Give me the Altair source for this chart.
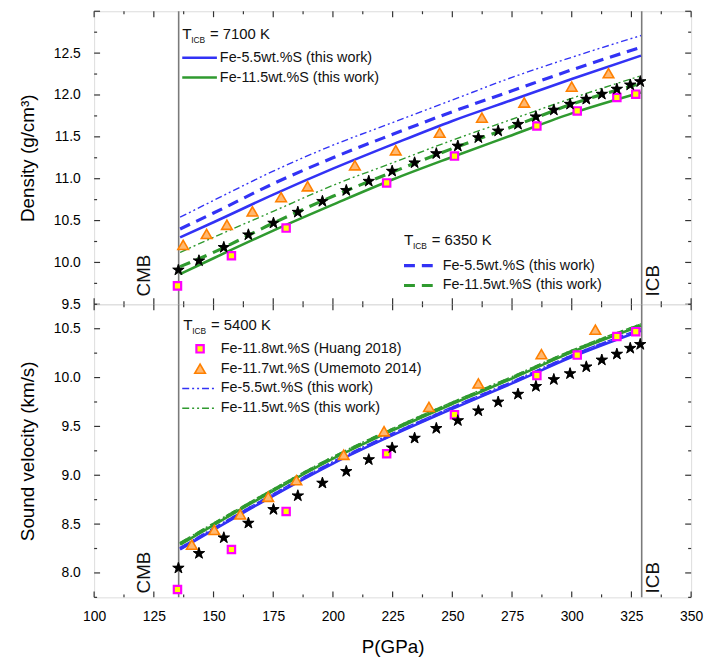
import altair as alt
import pandas as pd

# ---------------- data ----------------
p_grid = [136, 150, 175, 200, 225, 250, 275, 300, 329]

# density (g/cm3) - this work
rho_55_7100 = [10.30, 10.48, 10.81, 11.12, 11.41, 11.69, 11.94, 12.19, 12.47]
rho_55_6350 = [10.40, 10.59, 10.94, 11.25, 11.53, 11.80, 12.05, 12.30, 12.57]
rho_55_5400 = [10.54, 10.74, 11.09, 11.40, 11.67, 11.94, 12.21, 12.45, 12.71]
rho_115_7100 = [9.86, 10.05, 10.38, 10.69, 10.99, 11.26, 11.52, 11.78, 12.03]
rho_115_6350 = [9.95, 10.12, 10.47, 10.79, 11.08, 11.36, 11.62, 11.89, 12.14]
rho_115_5400 = [10.12, 10.30, 10.61, 10.92, 11.19, 11.46, 11.71, 11.96, 12.23]

# sound velocity (km/s) - this work
vp_55_7100 = [8.24, 8.44, 8.79, 9.12, 9.41, 9.68, 9.94, 10.21, 10.48]
vp_55_6350 = [8.25, 8.45, 8.80, 9.13, 9.42, 9.69, 9.95, 10.22, 10.49]
vp_55_5400 = [8.26, 8.46, 8.81, 9.14, 9.43, 9.70, 9.96, 10.23, 10.50]
vp_115_7100 = [8.29, 8.49, 8.84, 9.17, 9.46, 9.73, 9.99, 10.26, 10.53]
vp_115_6350 = [8.30, 8.50, 8.85, 9.18, 9.47, 9.74, 10.00, 10.27, 10.54]
vp_115_5400 = [8.31, 8.51, 8.86, 9.19, 9.48, 9.75, 10.01, 10.28, 10.55]

# stars (reference model)
star_p = [135.3, 143.9, 154.3, 164.6, 175.1, 185.3, 195.6, 205.6, 215.0, 224.8, 234.2, 243.3,
          252.3, 260.9, 269.2, 277.5, 285.0, 292.5, 299.3, 306.1, 312.6, 318.9, 324.5, 328.7]
star_rho = [9.91, 10.02, 10.18, 10.33, 10.47, 10.60, 10.73, 10.86, 10.97, 11.09, 11.19, 11.30,
            11.39, 11.49, 11.57, 11.65, 11.74, 11.82, 11.89, 11.95, 12.01, 12.07, 12.12, 12.16]
star_vp = [8.05, 8.20, 8.36, 8.51, 8.65, 8.79, 8.92, 9.04, 9.16, 9.28, 9.38, 9.48,
           9.56, 9.66, 9.75, 9.83, 9.91, 9.98, 10.04, 10.11, 10.18, 10.24, 10.30, 10.34]

# Huang 2018 (squares)
huang_p = [134.9, 157.5, 180.4, 222.5, 250.9, 285.4, 302.3, 318.9, 326.8]
huang_rho = [9.72, 10.08, 10.41, 10.95, 11.27, 11.63, 11.81, 11.97, 12.01]
huang_vp = [7.83, 8.24, 8.63, 9.22, 9.62, 10.02, 10.23, 10.42, 10.47]

# Umemoto 2014 (triangles)
ume_p_rho = [137.3, 147.1, 155.6, 166.3, 178.3, 189.4, 209.2, 226.3, 244.7, 262.4, 280.1, 300.0, 315.4]
ume_rho = [10.21, 10.34, 10.45, 10.61, 10.78, 10.91, 11.16, 11.34, 11.55, 11.73, 11.91, 12.10, 12.26]
ume_p_vp = [140.9, 150.3, 161.2, 172.9, 184.7, 204.5, 221.4, 240.2, 260.9, 287.3, 309.9]
ume_vp = [8.29, 8.44, 8.60, 8.78, 8.95, 9.21, 9.45, 9.70, 9.94, 10.24, 10.49]

boundary_p = [135.4, 329.3]
boundary_names = ["CMB", "ICB"]
boundary_label_p = [120.7, 334.2]

x_major = [100, 125, 150, 175, 200, 225, 250, 275, 300, 325, 350]
x_minor = [112.5, 137.5, 162.5, 187.5, 212.5, 237.5, 262.5, 287.5, 312.5, 337.5]
rho_labels = [9.5, 10.0, 10.5, 11.0, 11.5, 12.0, 12.5]
rho_major = [9.5, 10.0, 10.5, 11.0, 11.5, 12.0, 12.5, 13.0]
rho_minor = [9.75, 10.25, 10.75, 11.25, 11.75, 12.25, 12.75]
vp_labels = [8.0, 8.5, 9.0, 9.5, 10.0, 10.5]
vp_major = [8.0, 8.5, 9.0, 9.5, 10.0, 10.5]
vp_minor = [7.75, 8.25, 8.75, 9.25, 9.75, 10.25, 10.75]

lab_55 = "Fe-5.5wt.%S (this work)"
lab_115 = "Fe-11.5wt.%S (this work)"
lab_huang = "Fe-11.8wt.%S (Huang 2018)"
lab_ume = "Fe-11.7wt.%S (Umemoto 2014)"
temps = ["7100 K", "6350 K", "5400 K"]

# ---------------- styling ----------------
W, H = 603, 296
BLUE = "#3232f5"
GREEN = "#2f9a2f"
FRAME = "#333333"
FONT = "Liberation Sans"
STAR = ("M0,-1L0.2245,-0.309L0.951,-0.309L0.363,0.118L0.588,0.809L0,0.382"
        "L-0.588,0.809L-0.363,0.118L-0.951,-0.309L-0.2245,-0.309Z")
STYLES = {
    "solid": dict(strokeWidth=2.6),
    "dash": dict(strokeWidth=3.2, strokeDash=[11, 7]),
    "dashdot": dict(strokeWidth=1.4, strokeDash=[7, 3, 2, 3, 2, 3]),
}
DUMMY = pd.DataFrame({"k": [0]})
xscale = alt.Scale(domain=[100, 350], nice=False, zero=False)


def panel(yscale, ylabels, ymajor, yminor, series, stars_v, huang_v, ume_p, ume_v, ytitle,
          show_x, legend_layers, cmb_y, icb_y):
    layers = []
    yax = alt.Axis(values=ylabels, format=".1f", ticks=False, domain=False, grid=False,
                   labelFontSize=14, labelPadding=14, title=ytitle,
                   titleFontSize=19, titleFontWeight="normal", titlePadding=16)
    if show_x:
        xax = alt.Axis(values=x_major, format="d", ticks=False, domain=False, grid=False,
                       labelFontSize=14, labelPadding=12, labelFlush=False,
                       title="P(GPa)", titleFontSize=19, titleFontWeight="normal",
                       titlePadding=15)

        def X(f):
            return alt.X(f, scale=xscale)
    else:
        xax = None

        def X(f):
            return alt.X(f, scale=xscale, axis=None)

    def Y(f):
        return alt.Y(f, scale=yscale)

    # stars carry the axes
    layers.append(alt.Chart(pd.DataFrame({"P": star_p, "v": stars_v})).mark_point(
        shape=STAR, filled=True, fill="#000", stroke="#000", strokeWidth=0.6, size=145,
        opacity=1).encode(x=alt.X("P:Q", scale=xscale, axis=xax),
                          y=alt.Y("v:Q", scale=yscale, axis=yax)))
    # boundary rules
    layers.append(alt.Chart(pd.DataFrame({"P": boundary_p})).mark_rule(
        color="#7a7a7a", strokeWidth=1.6).encode(x=X("P:Q"), y=alt.value(0), y2=alt.value(H)))
    # lines
    for vals, color, style in series:
        df = pd.DataFrame({"P": p_grid, "v": vals})
        layers.append(alt.Chart(df).mark_line(color=color, interpolate="monotone",
                                              **STYLES[style]).encode(x=X("P:Q"), y=Y("v:Q")))
    layers.append(alt.Chart(pd.DataFrame({"P": ume_p, "v": ume_v})).mark_point(
        shape="triangle-up", filled=True, fill="#ffb870", stroke="#ff8000", strokeWidth=1.6,
        size=115, opacity=1).encode(x=X("P:Q"), y=Y("v:Q")))
    layers.append(alt.Chart(pd.DataFrame({"P": huang_p, "v": huang_v})).mark_point(
        shape="square", filled=True, fill="#ffff00", stroke="#ff00ff", strokeWidth=2.2,
        size=55, opacity=1).encode(x=X("P:Q"), y=Y("v:Q")))
    # stars again, above the lines
    layers.append(alt.Chart(pd.DataFrame({"P": star_p, "v": stars_v})).mark_point(
        shape=STAR, filled=True, fill="#000", stroke="#000", strokeWidth=0.6, size=145,
        opacity=1).encode(x=X("P:Q"), y=Y("v:Q")))
    # CMB / ICB labels
    for name, lp, yy in zip(boundary_names, boundary_label_p, [cmb_y, icb_y]):
        layers.append(alt.Chart(pd.DataFrame({"P": [lp], "t": [name]})).mark_text(
            angle=270, align="left", baseline="middle", fontSize=19, color="#111",
            font=FONT).encode(x=X("P:Q"), y=alt.value(yy), text="t:N"))
    # inward ticks
    for vals, ln in [(ymajor, 6), (yminor, 3)]:
        d = pd.DataFrame({"v": vals})
        for x1, x2 in [(0, ln), (W - ln, W)]:
            layers.append(alt.Chart(d).mark_rule(color=FRAME, strokeWidth=1.2).encode(
                y=Y("v:Q"), x=alt.value(x1), x2=alt.value(x2)))
    for vals, ln in [(x_major, 6), (x_minor, 3)]:
        d = pd.DataFrame({"P": vals})
        for y1, y2 in [(0, ln), (H - ln, H)]:
            layers.append(alt.Chart(d).mark_rule(color=FRAME, strokeWidth=1.2).encode(
                x=X("P:Q"), y=alt.value(y1), y2=alt.value(y2)))
    layers.extend(legend_layers)
    return alt.layer(*layers).properties(width=W, height=H)


def txt(s, x, y, size=14.5):
    return alt.Chart(DUMMY).mark_text(text=s, fontSize=size, align="left", baseline="middle",
                                      color="#111", font=FONT).encode(
        x=alt.value(x), y=alt.value(y))


def tlabel(temp, x, y):
    return [txt("T", x, y, 15.5), txt("ICB", x + 9, y + 6, 8.5), txt("= " + temp, x + 28, y, 15)]


def seg(x1, x2, y, color, style):
    return alt.Chart(DUMMY).mark_rule(color=color, **STYLES[style]).encode(
        x=alt.value(x1), x2=alt.value(x2), y=alt.value(y))


top_legend = (tlabel(temps[0], 89, 23)
              + [seg(89, 124, 47, BLUE, "solid"), txt(lab_55, 127, 47),
                 seg(89, 124, 67, GREEN, "solid"), txt(lab_115, 127, 67)]
              + tlabel(temps[1], 313, 231)
              + [seg(313, 348, 257, BLUE, "dash"), txt(lab_55, 352, 257),
                 seg(313, 348, 277, GREEN, "dash"), txt(lab_115, 352, 277)])

bot_legend = (tlabel(temps[2], 90, 21)
              + [alt.Chart(DUMMY).mark_point(shape="square", filled=True, fill="#ffff00",
                                             stroke="#ff00ff", strokeWidth=2.2, size=55,
                                             opacity=1).encode(x=alt.value(107), y=alt.value(45)),
                 txt(lab_huang, 128, 45),
                 alt.Chart(DUMMY).mark_point(shape="triangle-up", filled=True, fill="#ffb870",
                                             stroke="#ff8000", strokeWidth=1.6, size=115,
                                             opacity=1).encode(x=alt.value(107), y=alt.value(65)),
                 txt(lab_ume, 128, 65),
                 seg(89, 124, 85, BLUE, "dashdot"), txt(lab_55, 128, 85),
                 seg(89, 124, 105, GREEN, "dashdot"), txt(lab_115, 128, 105)])

top_series = [(rho_55_5400, BLUE, "dashdot"), (rho_55_6350, BLUE, "dash"), (rho_55_7100, BLUE, "solid"),
              (rho_115_5400, GREEN, "dashdot"), (rho_115_6350, GREEN, "dash"), (rho_115_7100, GREEN, "solid")]
bot_series = [(vp_55_7100, BLUE, "solid"), (vp_55_6350, BLUE, "dash"), (vp_55_5400, BLUE, "dashdot"),
              (vp_115_7100, GREEN, "solid"), (vp_115_6350, GREEN, "dash"), (vp_115_5400, GREEN, "dashdot")]

top = panel(alt.Scale(domain=[9.5, 13.0], nice=False, zero=False), rho_labels, rho_major, rho_minor,
            top_series, star_rho, huang_rho, ume_p_rho, ume_rho, "Density (g/cm³)", False, top_legend,
            H - 8, H - 8)
bottom = panel(alt.Scale(domain=[7.75, 10.75], nice=False, zero=False), vp_labels, vp_major, vp_minor,
               bot_series, star_vp, huang_vp, ume_p_vp, ume_vp, "Sound velocity (km/s)", True, bot_legend,
               H - 4, H - 4)

chart = alt.vconcat(top, bottom, spacing=0, bounds="flush").configure_view(
    stroke=FRAME, strokeWidth=1.5).configure_axis(
    grid=False, ticks=False, domain=False, labelFont=FONT, titleFont=FONT,
    labelColor="#222", titleColor="#222").configure(
    padding={"left": 10, "top": -2, "right": 0, "bottom": 0}, background="white")

chart.save("out.html", embed_options={"renderer": "svg", "actions": False})
